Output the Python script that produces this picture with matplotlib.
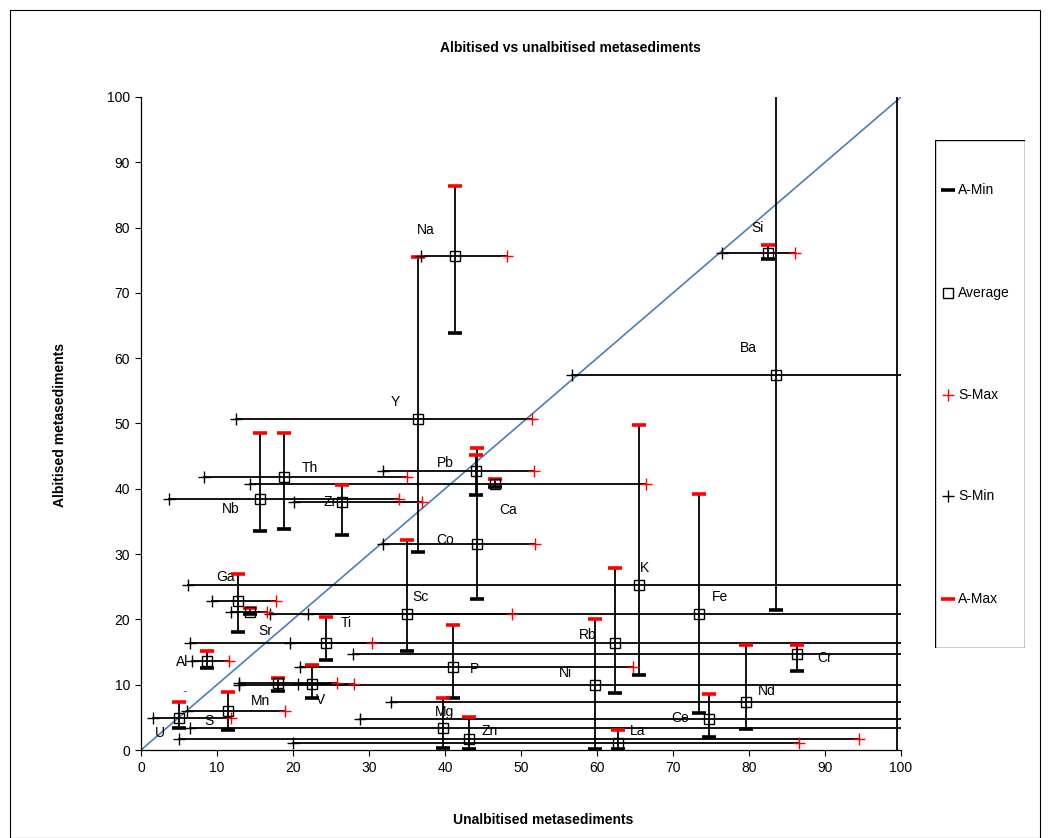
import matplotlib
matplotlib.use("Agg")
import matplotlib.pyplot as plt
from matplotlib.patches import Rectangle

plt.rcParams['font.family'] = ['Liberation Sans', 'DejaVu Sans']

# ---------------- data ----------------
elements = ["Na", "Si", "Ba", "Y", "Pb", "Th", "Ca", "Nb", "Zr", "Co",
            "K", "Ga", "Sr", "Sc", "Fe", "Ti", "Rb", "Cr", "Al", "P",
            "Mn", "V", "Ni", "Nd", "Ce", "Mg", "Zn", "La", "U", "S", ""]
avg_x = [41.3, 82.5, 83.6, 36.5, 44.1, 18.8, 46.6, 15.7, 26.5, 44.2,
         65.5, 12.8, 14.3, 35.0, 73.4, 24.3, 62.4, 86.3, 8.7, 41.1,
         18.0, 22.5, 59.7, 79.6, 74.8, 39.8, 43.1, 62.7, 5.0, 11.4, 99.5]
avg_y = [75.6, 76.1, 57.5, 50.7, 42.8, 41.8, 40.7, 38.5, 38.0, 31.5,
         25.3, 22.8, 21.2, 20.8, 20.8, 16.4, 16.4, 14.7, 13.7, 12.7,
         10.2, 10.1, 10.0, 7.3, 4.7, 3.4, 1.7, 1.0, 4.9, 5.9, 105.0]
s_min = [36.8, 76.5, 56.7, 12.5, 31.8, 8.3, 14.3, 3.7, 20.1, 31.9,
         6.2, 9.3, 11.8, 22.0, 17.0, 19.6, 6.4, 27.9, 6.7, 20.9,
         12.9, 20.6, 12.9, 32.9, 28.8, 6.5, 5.0, 20.0, 1.6, 6.0, 99.5]
s_max = [48.1, 86.1, 110.0, 51.5, 51.7, 35.0, 66.4, 33.9, 37.0, 51.8,
         110.0, 17.7, 16.6, 48.8, 110.0, 30.4, 110.0, 110.0, 11.6, 64.7,
         25.8, 28.0, 110.0, 110.0, 110.0, 110.0, 94.5, 86.6, 11.9, 19.0, 99.5]
a_min = [63.9, 75.2, 21.4, 30.3, 39.1, 33.9, 40.2, 33.5, 33.0, 23.1,
         11.5, 18.1, 20.8, 15.2, 5.6, 13.8, 8.8, 12.1, 12.5, 8.0,
         9.1, 8.0, 0.1, 3.2, 2.0, 0.35, 0.1, 0.1, 3.3, 3.1, -5.0]
a_max = [86.3, 77.3, 110.0, 75.5, 45.2, 48.6, 41.5, 48.6, 40.6, 46.2,
         49.7, 27.0, 21.7, 32.2, 39.2, 20.3, 27.9, 16.1, 15.2, 19.1,
         11.0, 13.0, 20.1, 16.1, 8.5, 8.0, 5.1, 3.1, 7.4, 8.9, 110.0]

label_x = [37.5, 81.1, 79.9, 33.4, 40.1, 22.2, 48.3, 11.8, 24.9, 40.0,
           66.2, 11.1, 16.3, 36.8, 76.2, 27.0, 58.8, 90.0, 5.4, 43.9,
           15.7, 23.6, 55.9, 82.4, 70.9, 40.0, 45.9, 65.3, 2.5, 8.9, 0]
label_y = [79.6, 79.9, 61.6, 53.3, 44.0, 43.2, 36.8, 36.9, 38.0, 32.2,
           27.9, 26.5, 18.2, 23.4, 23.4, 19.4, 17.6, 14.1, 13.5, 12.4,
           7.5, 7.7, 11.8, 9.0, 4.9, 5.8, 2.9, 2.9, 2.6, 4.4, 0]

ticks = [0, 10, 20, 30, 40, 50, 60, 70, 80, 90, 100]
legend_names = ["A-Min", "Average", "S-Max", "S-Min", "A-Max"]

# ---------------- figure ----------------
fig = plt.figure(figsize=(10.5, 8.38), dpi=100)
ax = fig.add_axes([141/1050, 1-750/838, 760/1050, 653/838])
ax.set_xlim(0, 100)
ax.set_ylim(0, 100)

# 1:1 line
ax.plot([0, 100], [0, 100], color='#4a7ebb', lw=1.2, zorder=2)

lw = 1.3
for i in range(len(elements)):
    ax.plot([s_min[i], s_max[i]], [avg_y[i], avg_y[i]], color='black', lw=lw, zorder=3)
    ax.plot([avg_x[i], avg_x[i]], [a_min[i], a_max[i]], color='black', lw=lw, zorder=3)

ax.plot(avg_x, a_min, linestyle='none', marker='_', ms=10, mew=2.6, color='black', zorder=5)
ax.plot(avg_x, a_max, linestyle='none', marker='_', ms=10, mew=2.6, color='#ff0000', zorder=5)
ax.plot(s_min, avg_y, linestyle='none', marker='+', ms=8, mew=1.0, color='black', zorder=5)
ax.plot(s_max, avg_y, linestyle='none', marker='+', ms=8, mew=1.0, color='#ff0000', zorder=5)
ax.plot(avg_x, avg_y, linestyle='none', marker='s', ms=7.5, mew=1.0, mfc='none', mec='black', zorder=6)

for i, name in enumerate(elements):
    if name:
        ax.text(label_x[i], label_y[i], name, fontsize=10, ha='center', va='center', zorder=4)
ax.text(5.8, 9.0, "-", color='#4a7ebb', fontsize=10, ha='center', va='center')

ax.set_xticks(ticks)
ax.set_yticks(ticks)
ax.tick_params(direction='out', length=4, width=0.8, labelsize=10, pad=4)
ax.spines['top'].set_visible(False)
ax.spines['right'].set_visible(False)
for side in ['left', 'bottom']:
    ax.spines[side].set_linewidth(0.9)

fig.text(570/1050, 1-48/838, "Albitised vs unalbitised metasediments",
         fontsize=10, fontweight='bold', ha='center', va='center')
fig.text(543/1050, 1-820/838, "Unalbitised metasediments",
         fontsize=10, fontweight='bold', ha='center', va='center')
fig.text(60/1050, 1-425/838, "Albitised metasediments",
         fontsize=10, fontweight='bold', ha='center', va='center', rotation=90)

# legend
lax = fig.add_axes([935/1050, 1-648/838, 90/1050, 508/838])
lax.set_xlim(0, 90)
lax.set_ylim(648, 140)
lax.axis('off')
lax.add_patch(Rectangle((0, 140), 90, 508, fill=False, edgecolor='black', lw=1.0))
leg_y = [190, 293, 395, 496, 599]
leg_style = [dict(marker='_', ms=10, mew=2.6, color='black'),
             dict(marker='s', ms=7.5, mew=1.0, mfc='none', mec='black', color='black'),
             dict(marker='+', ms=8, mew=1.0, color='#ff0000'),
             dict(marker='+', ms=8, mew=1.0, color='black'),
             dict(marker='_', ms=10, mew=2.6, color='#ff0000')]
for yy, nm, st in zip(leg_y, legend_names, leg_style):
    lax.plot([13], [yy], linestyle='none', **st)
    lax.text(23, yy, nm, fontsize=10, ha='left', va='center')

# chart area border
fig.add_artist(Rectangle((10/1050, 0.0), 1030/1050, 1-10/838, transform=fig.transFigure,
                         fill=False, edgecolor='black', lw=0.8))

fig.savefig("out.png", dpi=100)
